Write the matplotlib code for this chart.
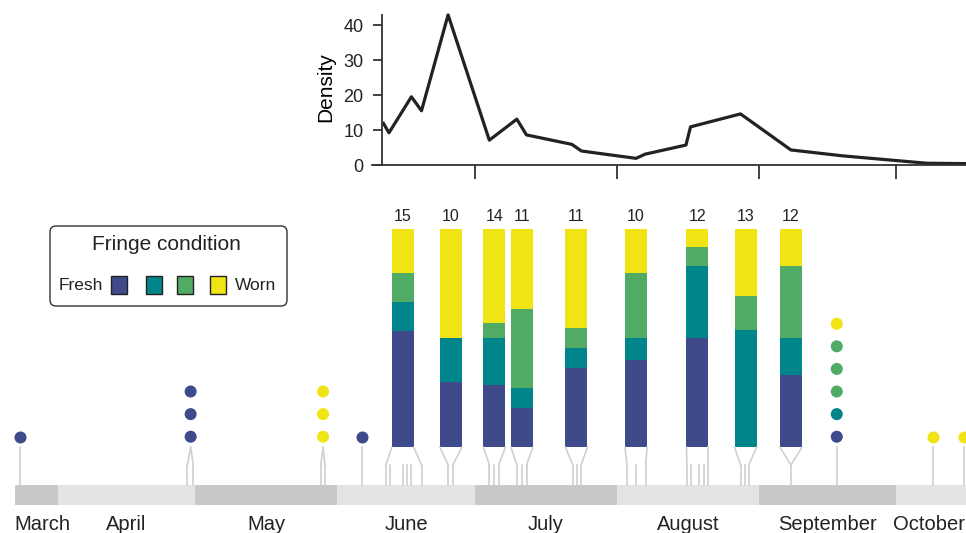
import numpy as np
import matplotlib.pyplot as plt
from matplotlib.patches import FancyBboxPatch, Rectangle

plt.rcParams['font.family'] = ['Liberation Sans', 'DejaVu Sans']
plt.rcParams['text.color'] = '#222222'

# couleurs de l'usure des franges, du plus frais au plus usé
cond_colors = ['#3e4a89', '#00868a', '#50ab64', '#f0e414']

# mois (jour de l'année)
months = ['March', 'April', 'May', 'June', 'July', 'August', 'September', 'October']
month_start = [81.6, 91, 121, 152, 182, 213, 244, 274]
month_end = [91, 121, 152, 182, 213, 244, 274, 305]

# barres empilées : position et effectifs par état
bar_x = [166.3, 176.8, 186.3, 192.3, 204.2, 217.2, 230.6, 241.1, 251.0]
n_fresh = [8, 3, 4, 2, 4, 4, 6, 0, 4]
n_mid1 = [2, 2, 3, 1, 1, 1, 4, 7, 2]
n_mid2 = [2, 0, 1, 4, 1, 3, 1, 2, 4]
n_worn = [3, 5, 6, 4, 5, 2, 1, 4, 2]
bar_dates = [
    [162.6, 163.6, 166.3, 167.2, 168.1, 170.4],
    [176.2, 177.2],
    [185.2, 186.2, 187.2],
    [191.2, 192.3, 193.3],
    [203.4, 204.3, 205.2],
    [215.2, 217.1, 219.3],
    [228.3, 229.1, 231.0, 232.1, 233.0],
    [240.0, 240.9, 241.8],
    [251.0],
]

# individus isolés (points)
dot_x = [82.7, 120.0, 148.9, 157.5, 261.0, 281.9, 288.8]
dot_dates = [[82.7], [119.3, 120.6], [148.4, 149.3], [157.5], [261.0], [281.9], [288.8]]
dot_cond = [[0], [0, 0, 0], [3, 3, 3], [0], [0, 1, 2, 2, 2, 3], [3], [3]]

# densité
dens_x = [162.1, 163.3, 168.2, 170.4, 176.2, 185.2, 191.2, 193.3, 203.2, 205.3,
          217.2, 219.2, 228.1, 229.1, 240.0, 251.0, 262.4, 280.7, 289.0]
dens_y = [11.9, 9.2, 19.5, 15.5, 42.9, 7.1, 13.1, 8.6, 5.9, 4.0,
          1.9, 3.1, 5.7, 10.9, 14.6, 4.3, 2.6, 0.5, 0.4]

W, H = 966, 533
fig = plt.figure(figsize=(W / 100, H / 100), dpi=100)

ax = fig.add_axes([0, 0, 1, 1])
x0, x1 = 78.4, 289.2
ax.set_xlim(x0, x1)
ax.set_ylim(-0.393, 2.052)
ax.axis('off')

band_top, band_bot = -0.173, -0.265
knee = -0.081
line_c = '#d0d0d0'

# bandes des mois
for i in range(len(months)):
    c = '#c8c9cb' if i % 2 == 0 else '#e4e4e4'
    ax.bar(month_start[i], band_top - band_bot, width=month_end[i] - month_start[i],
           bottom=band_bot, align='edge', color=c, linewidth=0)
    if i == 0:
        ax.text(month_start[i], -0.378, months[i], ha='left', va='baseline', fontsize=14.5)
    elif i == len(months) - 1:
        ax.text(x1 - 0.3, -0.378, months[i], ha='right', va='baseline', fontsize=14.5)
    else:
        ax.text((month_start[i] + month_end[i]) / 2, -0.378, months[i],
                ha='center', va='baseline', fontsize=14.5)

# barres en proportions
counts = np.array([n_fresh, n_mid1, n_mid2, n_worn], dtype=float)
totals = counts.sum(axis=0)
bw = 4.8
bottom = np.zeros(len(bar_x))
for j in range(4):
    h = counts[j] / totals
    ax.bar(bar_x, h, width=bw, bottom=bottom, color=cond_colors[j], linewidth=0, zorder=2)
    bottom += h
for x, t in zip(bar_x, totals):
    ax.text(x, 1.039, str(int(t)), ha='center', va='baseline', fontsize=11.5)

# liens vers les dates de capture
for x, d in zip(bar_x, bar_dates):
    ax.plot([x - bw / 2, d[0]], [0, knee], color=line_c, lw=1.2)
    ax.plot([x + bw / 2, d[-1]], [0, knee], color=line_c, lw=1.2)
    for dd in d:
        ax.plot([dd, dd], [knee, band_top], color=line_c, lw=1.2)

y0, dy = 0.0486, 0.1037
for x, d, cs in zip(dot_x, dot_dates, dot_cond):
    ys = y0 + dy * np.arange(len(cs))
    ax.scatter([x] * len(cs), ys, s=75, c=[cond_colors[k] for k in cs], linewidths=0, zorder=3)
    for dd in d:
        ax.plot([x, dd], [0, knee], color=line_c, lw=1.2)
        ax.plot([dd, dd], [knee, band_top], color=line_c, lw=1.2)

# courbe de densité
dax = fig.add_axes([372 / W, 1 - 165 / H, 594 / W, 155 / H])
dax.patch.set_alpha(0)
dax.set_xlim(159.6, 289.2)
dax.set_ylim(0, 44.3)
dax.plot(dens_x, dens_y, color='#222222', lw=2.3, clip_on=False)
for s in ['top', 'right']:
    dax.spines[s].set_visible(False)
dax.spines['left'].set_position(('data', 161.8))
dax.spines['left'].set_bounds(0, 43)
for s in ['left', 'bottom']:
    dax.spines[s].set_linewidth(1.3)
    dax.spines[s].set_color('#333333')
dax.set_xticks(month_start[4:])
dax.set_xticklabels([])
dax.tick_params(axis='x', length=10, width=1.3, color='#333333')
dax.set_yticks([0, 10, 20, 30, 40])
dax.tick_params(axis='y', length=6.5, width=1.3, color='#333333', labelsize=13, pad=7,
                labelcolor='#222222')
dax.set_ylabel('Density', fontsize=15, labelpad=6)

# légende
lax = fig.add_axes([0, 0, 1, 1])
lax.set_xlim(0, W)
lax.set_ylim(H, 0)
lax.axis('off')
lax.add_patch(FancyBboxPatch((50, 226), 237, 80, boxstyle='round,pad=0,rounding_size=6',
                             facecolor='white', edgecolor='#333333', lw=1.0))
lax.text(166, 244, 'Fringe condition', ha='center', va='center', fontsize=15)
lax.text(103, 285, 'Fresh', ha='right', va='center', fontsize=12.5)
lax.text(235, 285, 'Worn', ha='left', va='center', fontsize=12.5)
for k, xs in enumerate([111, 146, 177, 210]):
    lax.add_patch(Rectangle((xs, 276), 15.5, 18, facecolor=cond_colors[k],
                            edgecolor='#222222', lw=1.0))

fig.savefig('out.png', dpi=100)
